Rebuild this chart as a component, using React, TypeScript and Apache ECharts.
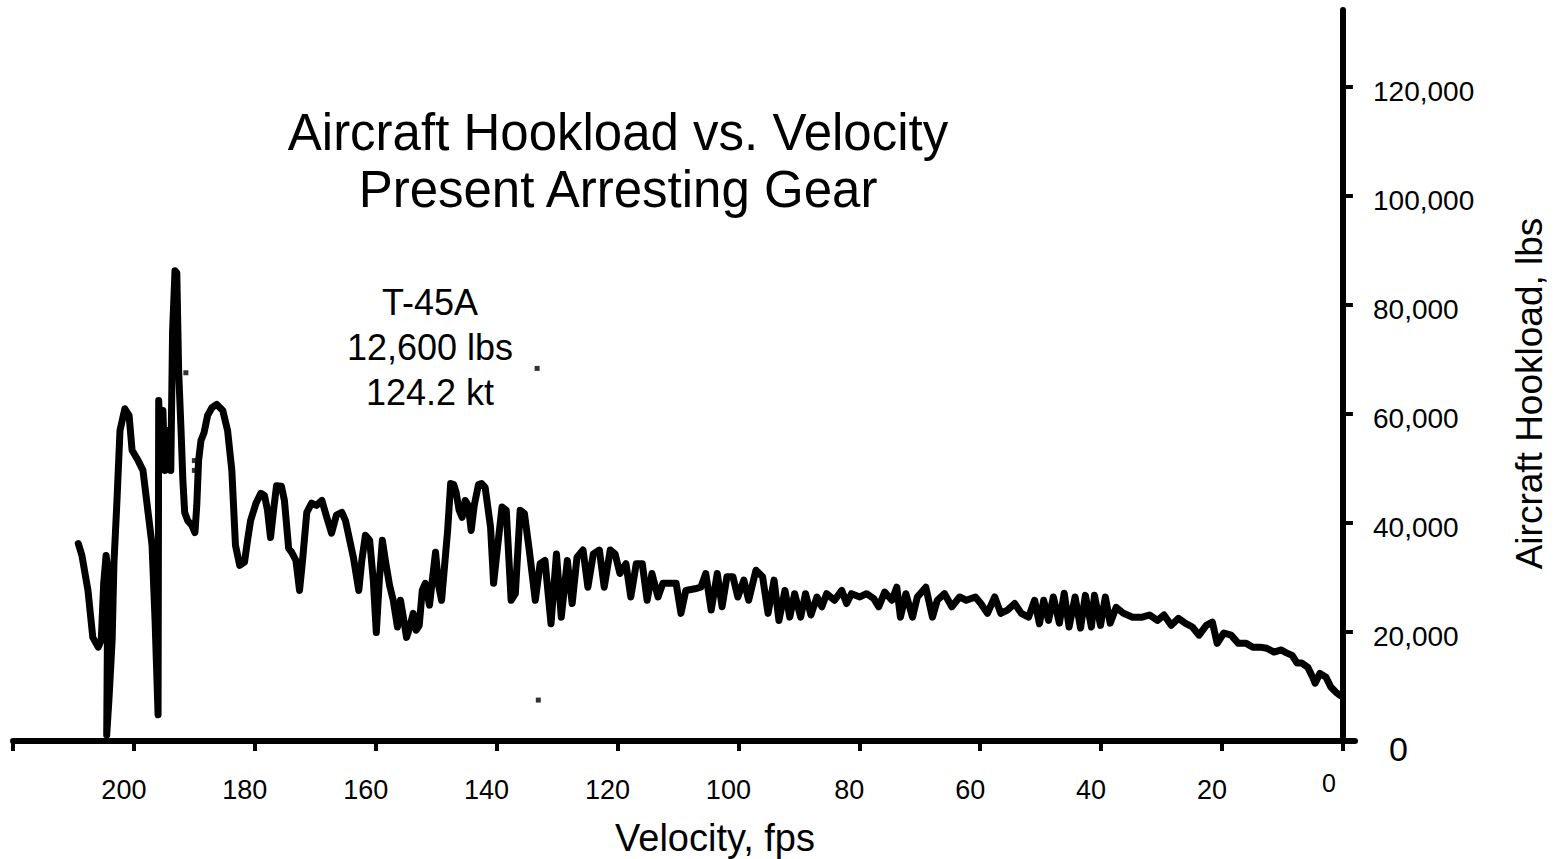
import React, { useEffect, useRef } from 'react';
import * as echarts from 'echarts';

// Velocity (fps) and hookload (lbs), in recording order
const velocityFps = [
  209.2, 208.6, 207.6, 206.8, 205.9, 205.4, 205.0, 204.6, 204.3, 204.5,
  204.1, 203.6, 203.3, 202.8, 202.3, 201.5, 200.8, 200.3, 199.3, 198.5,
  197.7, 197.0, 196.5, 196.0, 195.9, 195.5, 195.2, 194.9, 194.4, 193.9,
  193.6, 193.2, 192.9, 192.6, 192.2, 191.9, 191.6, 191.1, 190.4, 189.9,
  189.6, 189.3, 188.9, 188.4, 187.8, 187.1, 186.3, 185.3, 184.5, 183.8,
  183.2, 182.5, 181.7, 181.2, 180.7, 179.8, 179.0, 178.4, 177.9, 177.4,
  176.9, 176.4, 175.6, 175.1, 174.4, 173.9, 173.2, 172.6, 172.1, 171.4,
  170.6, 169.8, 168.9, 168.1, 167.3, 166.5, 165.6, 165.0, 164.3, 163.7,
  162.8, 162.3, 161.7, 161.0, 160.4, 159.9, 159.4, 158.9, 158.4, 157.7,
  157.1, 156.4, 155.9, 155.4, 154.9, 154.4, 153.8, 153.3, 152.8, 152.3,
  151.8, 151.1, 150.6, 150.1, 149.6, 149.1, 148.6, 148.1, 147.6, 147.1,
  146.7, 146.2, 145.7, 145.2, 144.7, 144.2, 143.7, 143.0,
  142.5, 141.9, 141.0, 140.5, 139.9, 139.1, 138.4, 137.6, 136.9, 136.1,
  135.4, 134.6, 133.6, 132.8, 132.0, 131.0, 130.1, 129.3, 128.3, 127.5,
  126.7, 125.7, 124.9, 124.0, 123.0, 122.2, 121.2, 120.4, 119.6, 118.6,
  117.8, 116.9, 115.9, 115.1, 114.3, 113.3, 112.5, 110.3, 109.5, 108.7,
  107.2, 106.2, 105.4, 104.5, 103.5, 102.7, 101.9, 100.9, 100.1, 99.1,
  98.3, 97.1, 96.0, 95.1, 94.1, 93.3, 92.3, 91.5, 90.7, 89.7,
  88.9, 88.0, 87.0, 86.2, 85.4, 84.1, 82.9, 82.1, 81.3, 79.9,
  78.8, 77.6, 76.8, 75.8, 74.6, 73.8, 73.2, 72.3, 71.2, 70.4,
  69.0, 67.9, 67.1, 65.9, 64.7, 63.4, 62.3, 60.8, 59.9, 58.8,
  57.6, 56.6, 55.5, 54.3, 53.2, 52.0, 51.0, 50.2,
  49.5, 48.7, 47.9, 46.9, 46.1, 45.3, 44.3, 43.4, 42.6, 41.6,
  41.1, 40.1, 39.3, 38.5, 37.5, 36.3, 34.8, 33.2, 32.0, 30.7,
  29.6, 28.4, 27.2, 26.1, 24.9, 23.8, 22.6, 21.6, 20.8, 19.7,
  18.5, 17.3, 16.0, 14.9, 13.7, 12.6, 11.4, 10.2, 9.6, 8.4,
  7.6, 6.8, 5.8, 5.0, 4.6, 3.8, 2.8, 2.0, 1.2, 0.5,
];

const hookloadLbs = [
  36200, 34000, 27600, 19000, 17200, 18500, 28900, 34000, 31300, 1100,
  8100, 18500, 32600, 44100, 56900, 60900, 59700, 53300, 51400, 49600,
  42300, 35900, 22100, 4800, 62400, 51400, 60600, 49600, 56900, 49600,
  75200, 86200, 85800, 67900, 56900, 47800, 41900, 40400, 39500, 38200,
  43200, 51400, 55100, 56500, 59700, 61100, 61700, 60600, 56900, 49600,
  35900, 32200, 32800, 36800, 40400, 43600, 45400, 45000, 42300, 37300,
  42300, 46800, 46700, 44100, 35300, 34600, 33100, 27600, 33100, 41900,
  43600, 43200, 44100, 41000, 38100, 41400, 41900, 40400, 36800, 33700,
  27600, 33100, 37700, 36800, 29500, 19900, 29500, 36800, 33100, 28500,
  25800, 20900, 25800, 22500, 19000, 20700, 23400, 20300, 21200, 27600,
  28900, 24900, 29800, 34600, 28500, 25800, 32200, 38600, 47200, 47000,
  45600, 42300, 41000, 44100, 43200, 38600, 43200, 47000,
  47200, 46500, 39200, 28900, 35000, 42900, 42300, 25800, 27000, 42300,
  41700, 35000, 25800, 32500, 33100, 21500, 34300, 22700, 33100, 25200,
  33700, 35000, 28200, 34300, 35000, 28200, 35000, 34300, 30700, 32500,
  26400, 32500, 32500, 25800, 30700, 26400, 28900, 28900, 23400, 27600,
  27900, 28200, 30700, 24000, 30700, 24600, 30100, 30100, 26400, 29500,
  25800, 31300, 30100, 23400, 29500, 22100, 27600, 22700, 27000, 22700,
  27000, 23100, 26400, 24600, 27000, 25800, 27600, 25200, 27000, 26400,
  27000, 26100, 24600, 27300, 25800, 28200, 22700, 27000, 22700, 26400,
  28200, 22700, 25800, 27000, 24600, 26400, 25800, 26400, 25200, 23400,
  26400, 23400, 24000, 25200, 23400, 22700, 25800, 21500,
  25800, 22100, 26400, 21600, 27100, 20900, 26400, 20700, 26700, 20900,
  26700, 21200, 26400, 21600, 24500, 23400, 22700, 22700, 23100, 22100,
  23100, 21200, 22500, 21600, 20900, 19400, 21200, 21800, 17900, 19800,
  19400, 17900, 17900, 17200, 17200, 17000, 16300, 16700, 16300, 15700,
  14300, 14300, 13500, 11700, 10600, 12400, 11700, 9900, 9000, 8400,
];

// small stray marks in the original plot
const speckVelocity = [133.3, 133.1, 190.0, 190.0, 191.4];
const speckLoad = [68300, 7500, 51400, 49600, 67500];

const xTickValues = [0, 20, 40, 60, 80, 100, 120, 140, 160, 180, 200, 220];
const xLabelValues = [20, 40, 60, 80, 100, 120, 140, 160, 180, 200];
const yTickValues = [0, 20000, 40000, 60000, 80000, 100000, 120000];

const titleLines = ['Aircraft Hookload vs. Velocity', 'Present Arresting Gear'];
const noteLines = ['T-45A', '12,600 lbs', '124.2 kt'];

export default function App() {
  const ref = useRef<HTMLDivElement>(null);

  useEffect(() => {
    if (!ref.current) return;
    const chart = echarts.init(ref.current, null, { renderer: 'svg' });
    const font = "'Liberation Sans', Arial, Helvetica, sans-serif";
    const black = '#000';

    chart.setOption({
      animation: false,
      backgroundColor: '#ffffff',
      grid: {
        left: 13,
        right: 203,
        top: 10,
        bottom: 118,
        containLabel: false,
        outerBoundsMode: 'none',
      },
      xAxis: {
        type: 'value',
        inverse: true,
        min: -2,
        max: 220,
        position: 'bottom',
        splitLine: { show: false },
        axisLine: { onZero: false, lineStyle: { color: black, width: 6 } },
        axisTick: {
          customValues: xTickValues,
          length: 10,
          lineStyle: { color: black, width: 4 },
        },
        axisLabel: {
          customValues: xLabelValues,
          color: black,
          fontSize: 27,
          fontFamily: font,
          margin: 35,
          padding: [0, 20, 0, 0],
        },
        name: 'Velocity, fps',
        nameLocation: 'middle',
        nameGap: 78,
        nameTextStyle: {
          color: black,
          fontSize: 38,
          fontFamily: font,
          padding: [0, 0, 0, 62],
        },
      },
      yAxis: {
        type: 'value',
        position: 'right',
        min: 0,
        max: 134000,
        splitLine: { show: false },
        axisLine: { onZero: true, lineStyle: { color: black, width: 6 } },
        axisTick: {
          customValues: yTickValues,
          length: 10,
          lineStyle: { color: black, width: 4 },
        },
        axisLabel: {
          customValues: yTickValues,
          color: black,
          fontSize: 28,
          fontFamily: font,
          margin: 18,
          padding: [10, 0, 0, 0],
          formatter: (v: number) =>
            v === 0 ? '{z|0}' : v.toLocaleString('en-US'),
          rich: {
            z: { fontSize: 34, fontFamily: font, color: black, padding: [6, 0, 0, 16] },
          },
        },
        name: 'Aircraft Hookload, lbs',
        nameLocation: 'middle',
        nameRotate: 90,
        nameGap: 156,
        nameTextStyle: {
          color: black,
          fontSize: 37,
          fontFamily: font,
          padding: [0, 36, 0, 0],
        },
      },
      series: [
        {
          type: 'line',
          name: 'Hookload',
          data: velocityFps.map((v, i) => [v, hookloadLbs[i]]),
          showSymbol: false,
          symbol: 'none',
          lineStyle: { color: black, width: 7, join: 'round', cap: 'round' },
          z: 3,
        },
        {
          type: 'scatter',
          name: 'specks',
          data: speckVelocity.map((v, i) => [v, speckLoad[i]]),
          symbol: 'rect',
          symbolSize: 5,
          itemStyle: { color: black },
          z: 3,
        },
      ],
      graphic: [
        {
          type: 'text',
          x: 618,
          y: 104,
          style: {
            text: titleLines.join('\n'),
            fill: black,
            font: `51px ${font}`,
            textAlign: 'center',
            textVerticalAlign: 'top',
            lineHeight: 57,
          },
        },
        {
          type: 'text',
          x: 430,
          y: 280,
          style: {
            text: noteLines.join('\n'),
            fill: black,
            font: `36px ${font}`,
            textAlign: 'center',
            textVerticalAlign: 'top',
            lineHeight: 45,
          },
        },
        {
          type: 'text',
          x: 1329,
          y: 783,
          style: {
            text: '0',
            fill: black,
            font: `25px ${font}`,
            textAlign: 'center',
            textVerticalAlign: 'middle',
          },
        },
      ],
    });

    return () => {
      chart.dispose();
    };
  }, []);

  return (
    <div
      ref={ref}
      style={{ position: 'absolute', left: 0, top: 0, width: 1558, height: 859 }}
    />
  );
}
